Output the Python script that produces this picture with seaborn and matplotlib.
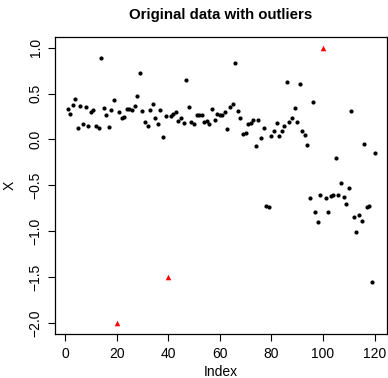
import matplotlib
matplotlib.use("Agg")
import matplotlib.pyplot as plt
import seaborn as sns
import pandas as pd
import numpy as np

sns.set_style("ticks")
plt.rcParams['font.family'] = ['Liberation Sans', 'DejaVu Sans']
plt.rcParams['text.color'] = 'black'
plt.rcParams['axes.labelcolor'] = 'black'

values = [0.33, 0.28, 0.375, 0.44, 0.124, 0.36, 0.17, 0.356, 0.15, 0.30,
          0.317, 0.143, 0.128, 0.883, 0.345, 0.262, 0.139, 0.32, 0.425, -2.0,
          0.30, 0.235, 0.244, 0.334, 0.33, 0.32, 0.367, 0.476, 0.72, 0.313,
          0.19, 0.146, 0.32, 0.382, 0.233, 0.164, 0.32, 0.023, 0.255, -1.5,
          0.255, 0.28, 0.30, 0.204, 0.237, 0.18, 0.65, 0.356, 0.193, 0.164,
          0.27, 0.27, 0.27, 0.193, 0.204, 0.171, 0.334, 0.21, 0.28, 0.27,
          0.27, 0.30, 0.117, 0.35, 0.386, 0.83, 0.31, 0.237, 0.055, 0.073,
          0.164, 0.182, 0.215, -0.068, 0.215, 0.019, 0.124, -0.73, -0.74, 0.037,
          0.092, 0.179, 0.04, 0.095, 0.146, 0.62, 0.195, 0.23, 0.345, 0.193,
          0.607, 0.095, 0.051, -0.058, -0.642, 0.407, -0.787, -0.896, -0.609, 1.0,
          -0.635, -0.795, -0.613, -0.602, -0.2, -0.606, -0.475, -0.624, -0.704, -0.533,
          0.31, -0.842, -1.009, -0.82, -0.885, -0.05, -0.74, -0.725, -1.553, -0.145]
outlier_index = [20, 40, 100]
index = list(range(1, len(values) + 1))
x_ticks = [0, 20, 40, 60, 80, 100, 120]
y_ticks = [1.0, 0.5, 0.0, -0.5, -1.0, -1.5, -2.0]

df = pd.DataFrame({"Index": index, "X": values})
df["outlier"] = df["Index"].isin(outlier_index)
normal = df[~df["outlier"]]
outl = df[df["outlier"]]

fig = plt.figure(figsize=(3.88, 3.78), dpi=100)
ax = fig.add_axes([55.3/388, 44/378, 331.5/388, 297.4/378])

sns.scatterplot(data=normal, x="Index", y="X", ax=ax, color="black", s=9,
                marker="o", linewidth=0, legend=False)
sns.scatterplot(data=outl, x="Index", y="X", ax=ax, color="red", s=16,
                marker="^", linewidth=0, legend=False)

ax.set_xlim(1 - 0.04*119, 120 + 0.04*119)
ax.set_ylim(-2 - 0.04*3, 1 + 0.04*3)
ax.set_xticks(x_ticks)
ax.set_yticks(y_ticks)
ax.set_yticklabels([f"{v:.1f}".replace("-", "\u2212") for v in y_ticks],
                   rotation=90, va="center")
ax.tick_params(direction="out", length=5, width=0.8, labelsize=10, pad=4,
               colors="black", labelcolor="black")
for sp in ax.spines.values():
    sp.set_visible(True)
    sp.set_linewidth(0.9)
    sp.set_color("black")

ax.set_xlabel("Index", fontsize=10, labelpad=3)
ax.set_ylabel("X", fontsize=10, labelpad=9)
ax.set_title("Original data with outliers", fontsize=10.8, fontweight="bold",
             pad=13, color="black")

fig.savefig("out.png", dpi=100)
